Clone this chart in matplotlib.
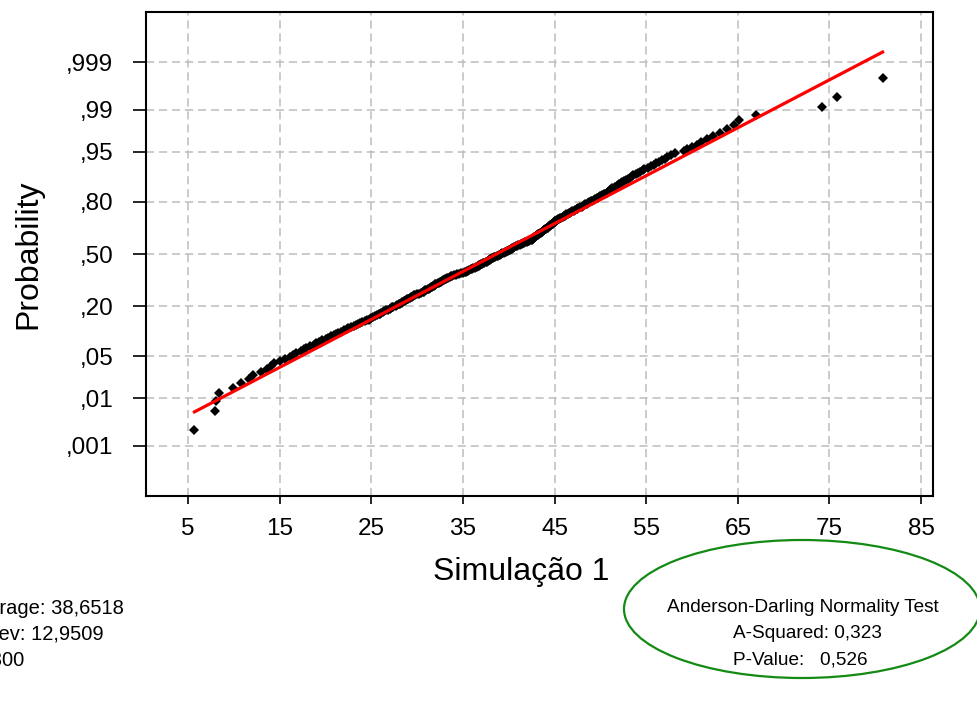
import numpy as np
import matplotlib
matplotlib.use("Agg")
import matplotlib.pyplot as plt
from matplotlib.patches import Ellipse
from statistics import NormalDist

plt.rcParams['font.family'] = ['Liberation Sans', 'DejaVu Sans']

# Simulação 1 sample (300 values, sorted)
sim1 = [
    5.7, 7.9, 8.0, 8.4, 9.9, 10.8, 11.7, 12.1, 13.0, 13.6, 14.1, 14.4,
    15.0, 15.6, 16.1, 16.4, 16.8, 17.3, 17.6, 17.9, 18.3, 18.7, 19.0, 19.3, 19.6,
    20.0, 20.3, 20.6, 20.9, 21.2, 21.4, 21.7, 22.0, 22.3, 22.5, 22.8, 23.1, 23.3, 23.5, 23.8,
    24.0, 24.3, 24.5, 24.7, 24.9, 25.0, 25.2, 25.4, 25.6, 25.8,
    26.0, 26.1, 26.3, 26.4, 26.6, 26.8, 27.0, 27.1, 27.3, 27.4,
    27.7, 27.8, 28.0, 28.1, 28.3, 28.4, 28.6, 28.7, 28.8, 28.9,
    29.0, 29.2, 29.3, 29.4, 29.5, 29.7, 29.8, 30.0, 30.2, 30.4,
    30.6, 30.7, 30.8, 30.9, 31.0, 31.2, 31.3, 31.4, 31.5, 31.6,
    31.7, 31.8, 31.9, 32.0, 32.1, 32.3, 32.4, 32.5, 32.6, 32.7,
    32.8, 32.9, 33.0, 33.2, 33.3, 33.4, 33.6, 33.7, 33.8, 34.0,
    34.2, 34.4, 34.6, 34.8, 35.0, 35.2, 35.3, 35.4, 35.6, 35.7,
    35.9, 36.0, 36.1, 36.3, 36.4, 36.5, 36.6, 36.7, 36.8, 36.9,
    37.0, 37.1, 37.2, 37.3, 37.5, 37.6, 37.7, 37.8, 37.9, 38.0,
    38.1, 38.2, 38.3, 38.4, 38.5, 38.7, 38.8, 38.9, 39.0, 39.1,
    39.2, 39.3, 39.5, 39.6, 39.7, 39.8, 39.9, 40.0, 40.1, 40.2,
    40.3, 40.4, 40.5, 40.6, 40.8, 40.9, 41.0, 41.2, 41.3, 41.4,
    41.6, 41.7, 41.8, 42.0, 42.1, 42.2, 42.4, 42.5, 42.6, 42.7,
    42.7, 42.8, 42.9, 43.0, 43.0, 43.1, 43.2, 43.2, 43.3, 43.4,
    43.5, 43.6, 43.6, 43.7, 43.8, 43.9, 44.0, 44.1, 44.2, 44.3,
    44.3, 44.4, 44.5, 44.5, 44.6, 44.7, 44.8, 44.9, 44.9, 45.0,
    45.0, 45.1, 45.3, 45.4, 45.5, 45.6, 45.7, 45.9, 46.0, 46.1,
    46.2, 46.3, 46.5, 46.6, 46.7, 46.8, 46.9, 47.1, 47.2, 47.4,
    47.5, 47.6, 47.8, 48.0, 48.1, 48.2, 48.3, 48.5, 48.7, 48.8,
    49.0, 49.1, 49.3, 49.4, 49.6, 49.7, 49.9, 50.0, 50.2, 50.4,
    50.5, 50.7, 50.8, 51.0, 51.1, 51.2, 51.3, 51.5, 51.6, 51.8,
    51.9, 52.0, 52.2, 52.4, 52.6, 52.8, 53.0, 53.2, 53.4, 53.6,
    53.9, 54.1, 54.3, 54.6, 54.8,
    55.2, 55.5, 55.8, 56.1, 56.4, 56.7, 57.0, 57.3, 57.7, 58.1,
    59.1, 59.5, 60.0, 60.5, 61.0, 61.6, 62.3, 63.0, 63.8, 64.6,
    65.1, 67.0, 74.2, 75.8, 80.8,
]

avg = 38.6518
stdev = 12.9509
n_obs = 300
a_squared = 0.323
p_value = 0.526

prob_ticks = [0.001, 0.01, 0.05, 0.20, 0.50, 0.80, 0.95, 0.99, 0.999]
prob_labels = [',001', ',01', ',05', ',20', ',50', ',80', ',95', ',99', ',999']
x_ticks = [5, 15, 25, 35, 45, 55, 65, 75, 85]

nd = NormalDist()
x = np.sort(np.array(sim1))
n = len(x)
# median ranks (Benard) -> normal scores
pp = (np.arange(1, n + 1) - 0.3) / (n + 0.4)
zs = np.array([nd.inv_cdf(p) for p in pp])

W, H = 978, 706
fig = plt.figure(figsize=(W / 100, H / 100), dpi=100)
ax = fig.add_axes([146 / W, 1 - 496 / H, 787 / W, 484 / H])

ax.plot(x, zs, linestyle='none', marker='D', markersize=4.6,
        markerfacecolor='black', markeredgewidth=0, zorder=3)

# fitted normal line from min to max
xl = np.array([x.min(), x.max()])
ax.plot(xl, (xl - avg) / stdev, color='red', linewidth=2.3, zorder=4)

ax.set_xlim(0.41, 86.3)
ax.set_ylim(-3.9, 3.9)
ax.set_xticks(x_ticks)
ax.set_yticks([nd.inv_cdf(p) for p in prob_ticks])
ax.set_yticklabels(prob_labels)

ax.grid(True, color='#bdbdbd', linestyle=(0, (5.3, 3.2)), linewidth=1.1, zorder=0)
ax.set_axisbelow(True)
for sp in ax.spines.values():
    sp.set_linewidth(1.5)
ax.tick_params(axis='y', length=9.5, width=1.2, pad=14, labelsize=17.5)
ax.tick_params(axis='x', length=6, width=1.2, pad=9.5, labelsize=17.5)

fig.text(28 / W, 1 - 254 / H, 'Probability', rotation=90, fontsize=23,
         ha='center', va='center')
fig.text(521 / W, 1 - 572 / H, 'Simulação 1', fontsize=23,
         ha='center', va='center')

# summary statistics
fig.text(-35 / W, 1 - 608 / H, f'Average: {avg:.4f}'.replace('.', ','),
         fontsize=14.5, va='center')
fig.text(-35 / W, 1 - 634 / H, f'StDev: {stdev:.4f}'.replace('.', ','),
         fontsize=14.5, va='center')
fig.text(-35 / W, 1 - 660 / H, f'N: {n_obs}', fontsize=14.5, va='center')

fig.text(803 / W, 1 - 607 / H, 'Anderson-Darling Normality Test',
         fontsize=13.7, ha='center', va='center')
fig.text(733 / W, 1 - 634 / H, f'A-Squared: {a_squared:.3f}'.replace('.', ','),
         fontsize=13.7, va='center')
fig.text(733 / W, 1 - 660 / H, f'P-Value:   {p_value:.3f}'.replace('.', ','),
         fontsize=13.7, va='center')

ring = Ellipse((802 / W, 1 - 609 / H), 356 / W, 138 / H,
               transform=fig.transFigure, fill=False,
               edgecolor='#138a13', linewidth=1.6)
fig.add_artist(ring)

fig.savefig('out.png', dpi=100)
